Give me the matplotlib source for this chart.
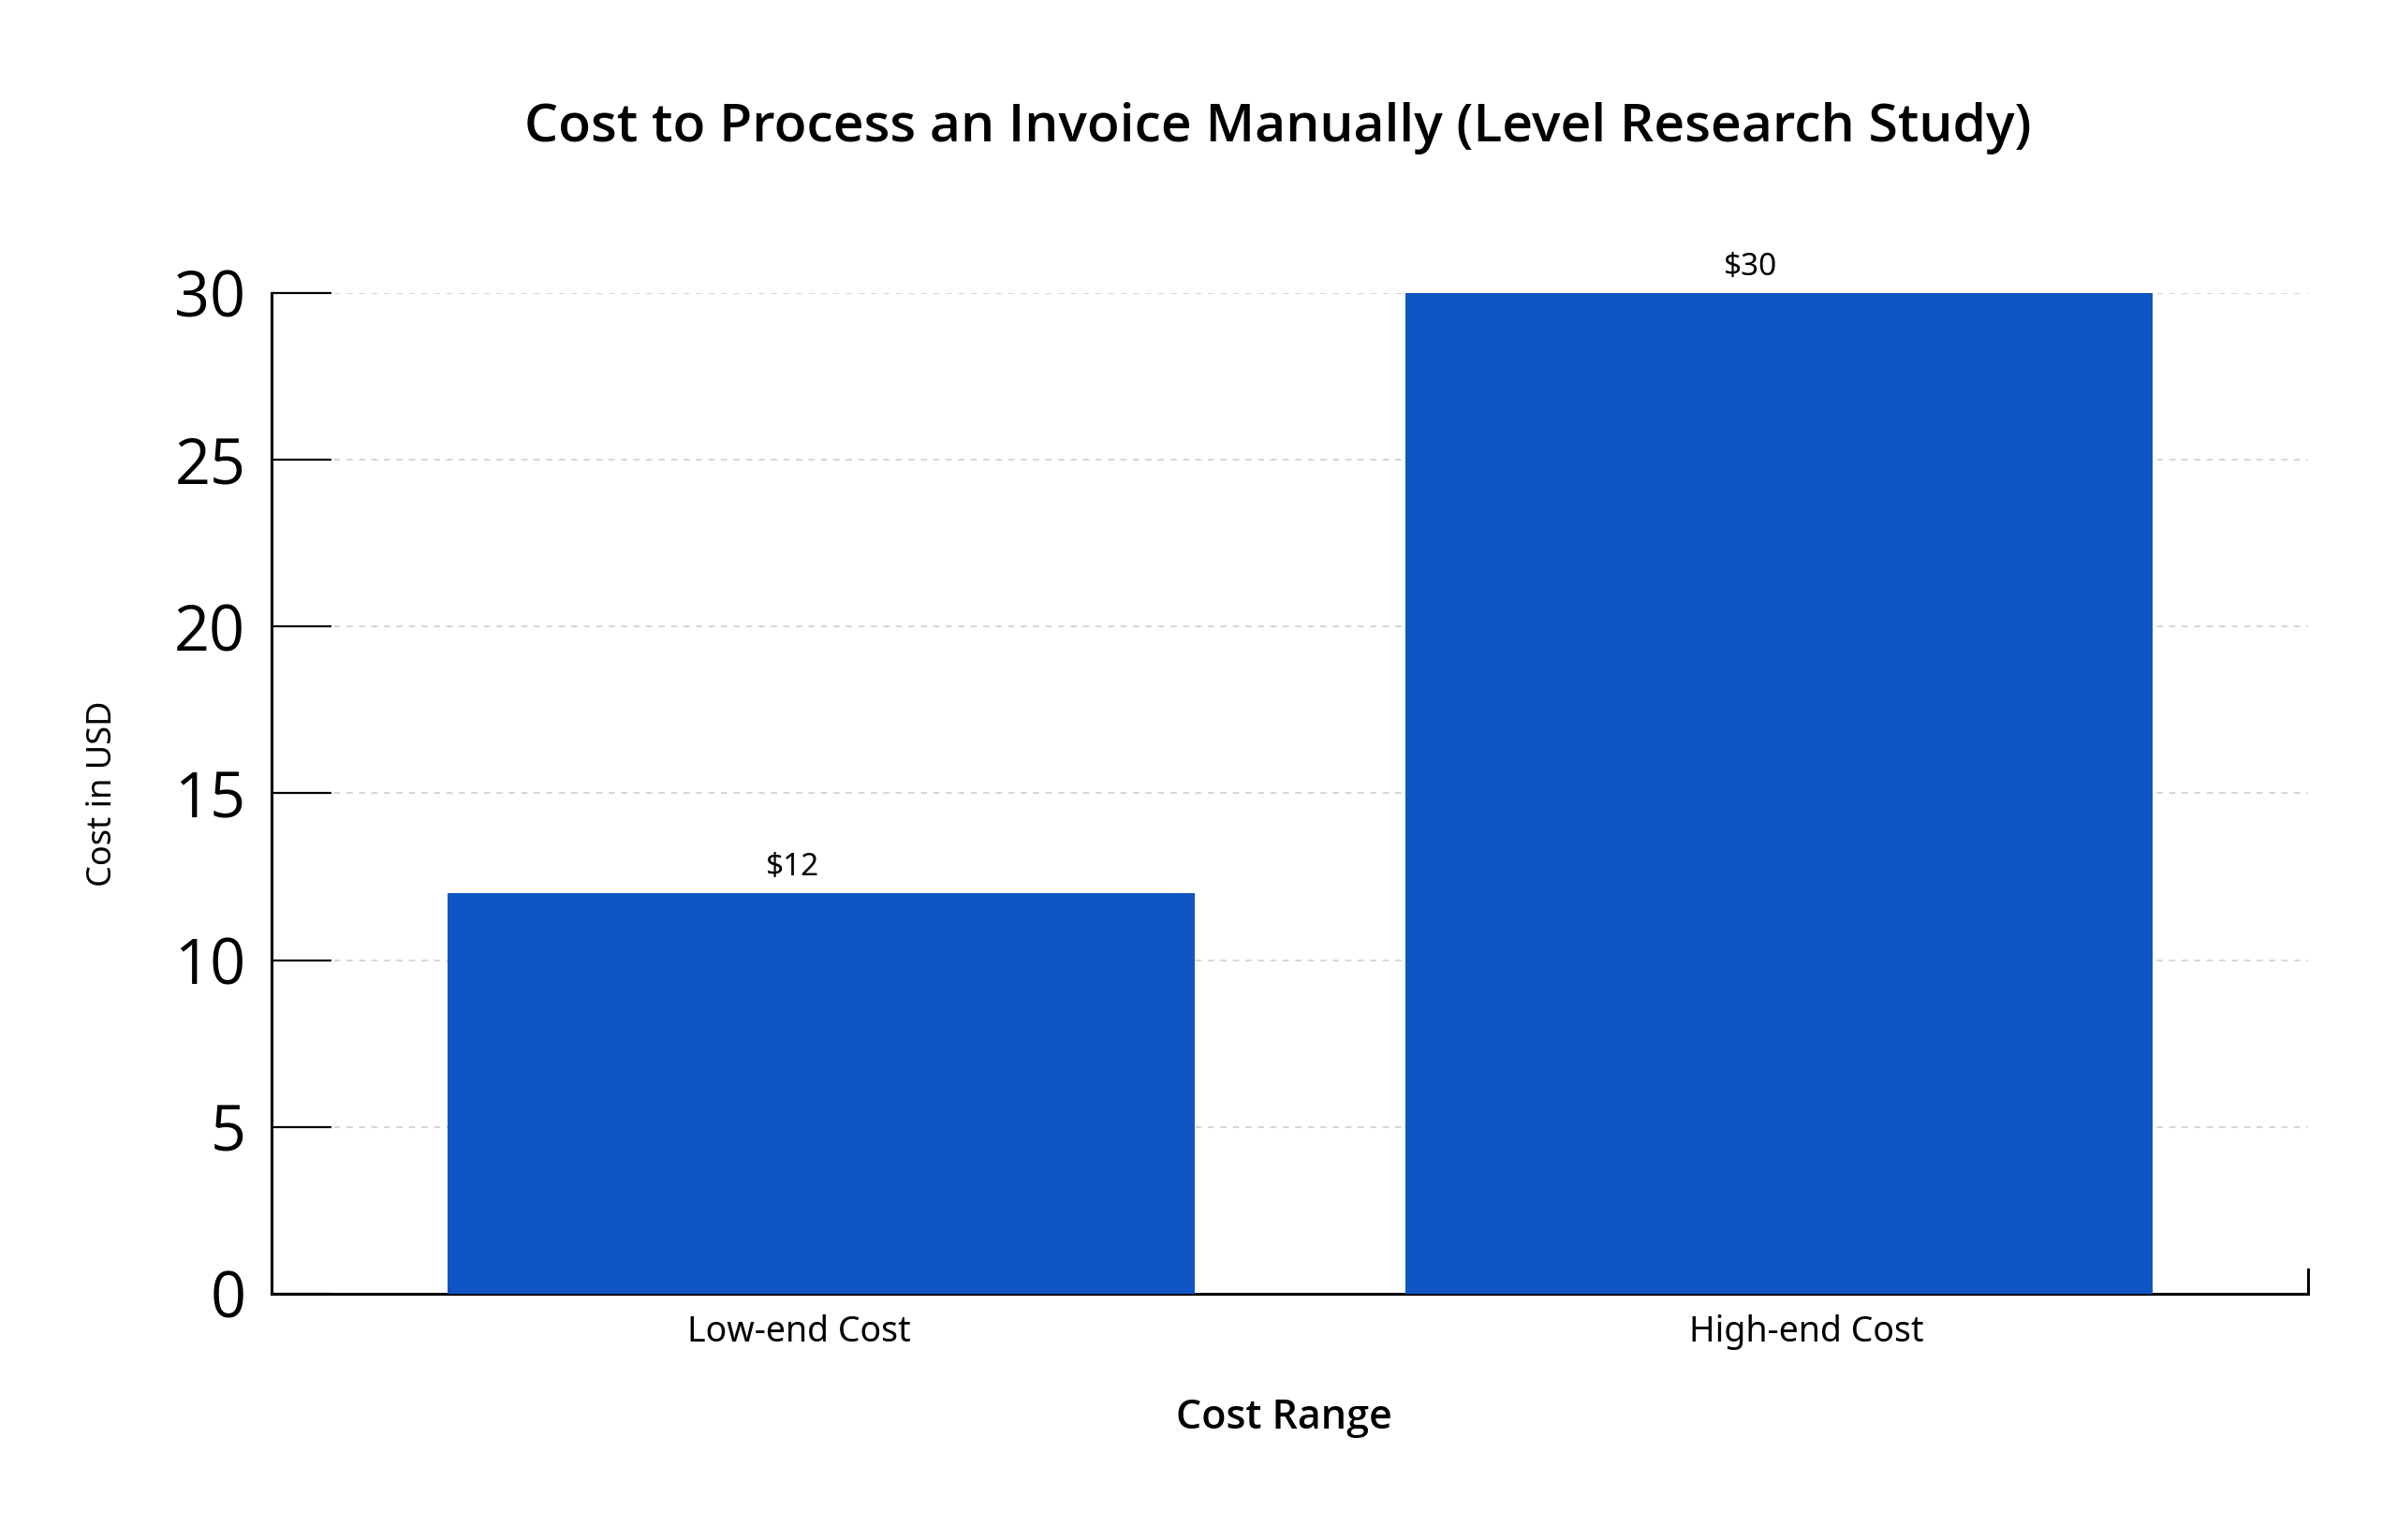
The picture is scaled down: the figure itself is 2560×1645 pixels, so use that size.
import matplotlib
matplotlib.use("Agg")
import matplotlib.pyplot as plt

categories = ["Low-end Cost", "High-end Cost"]
values = [12, 30]
bar_labels = ["$12", "$30"]
yticks = [0, 5, 10, 15, 20, 25, 30]

bar_color = "#1055C4"

fig = plt.figure(figsize=(25.6, 16.45), dpi=100)
ax = fig.add_axes([0.1133, 0.160, 0.8497, 0.6497])

xpos = list(range(len(categories)))
bars = ax.bar(xpos, values, width=0.78, color=bar_color, zorder=3)

ax.set_xlim(-0.574, 1.553)
ax.set_ylim(0, 30)

ax.set_yticks(yticks)
ax.yaxis.grid(True, linestyle=(0, (4, 4)), color="#d0d0d0", linewidth=1.2, zorder=0)
ax.set_axisbelow(True)

ax.tick_params(axis="y", direction="in", length=46, width=1.6, color="black",
               labelsize=48, pad=20)
for lab in ax.get_yticklabels():
    lab.set_fontfamily("Open Sans")

ax.set_xticks([xpos[0] - 0.023, xpos[1] + 0.029])
ax.set_xticklabels(categories, fontsize=27, fontfamily="Noto Sans")
ax.tick_params(axis="x", length=0, pad=16)

for s in ["top", "right"]:
    ax.spines[s].set_visible(False)
ax.spines["left"].set_linewidth(2.2)
ax.spines["bottom"].set_linewidth(2.2)

ax.plot([1, 1], [0, 0.024], transform=ax.transAxes, color="black", lw=2.2, clip_on=False)

for rect, lab in zip(bars, bar_labels):
    ax.annotate(lab, (rect.get_x() + rect.get_width() / 2 - 0.03, rect.get_height()),
                xytext=(0, 8), textcoords="offset points", ha="center", va="bottom",
                fontsize=24, fontfamily="Noto Sans")

ax.set_ylabel("Cost in USD", fontsize=26, fontfamily="Noto Sans")
ax.yaxis.set_label_coords(-0.0747, 0.5)
ax.set_xlabel("Cost Range", fontsize=31, fontfamily="Open Sans", fontweight=600)
ax.xaxis.set_label_coords(0.497, -0.104)

fig.text(0.533, 0.917, "Cost to Process an Invoice Manually (Level Research Study)",
         ha="center", va="center", fontsize=41, fontfamily="Open Sans", fontweight=600)

fig.savefig("out.png", dpi=100, facecolor="white")
